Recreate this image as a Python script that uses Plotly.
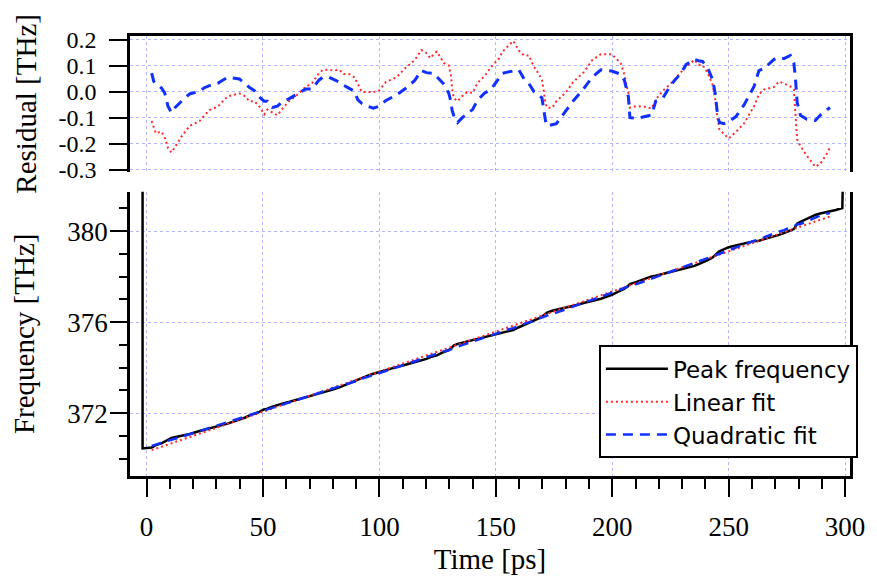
import numpy as np
import plotly.graph_objects as go

# Sample times (ps) shared by the residual and fit curves
time_ps = [2.2, 3.1, 4.0, 6.4, 7.8, 9.2, 10.7, 12.1, 15.0, 18.5, 22.8, 24.6, 27.0, 30.6, 32.7,
           34.8, 39.9, 42.4, 44.1, 46.3, 48.4, 50.5, 51.9, 54.0, 56.2, 58.3, 61.1, 64.0, 68.3,
           71.1, 74.0, 75.8, 78.2, 80.3, 82.8, 84.6, 87.0, 89.3, 90.7, 91.7, 92.4, 95.0, 97.4,
           99.9, 102.8, 107.3, 111.2, 115.2, 118.0, 120.2, 121.9, 123.7, 124.7, 127.7, 129.8,
           130.8, 131.2, 131.9, 133.6, 135.5, 137.6, 140.0, 142.1, 145.1, 147.9, 151.5, 152.9,
           155.0, 157.5, 159.9, 162.1, 164.2, 166.3, 168.4, 169.8, 170.6, 171.3, 172.0, 174.2,
           176.0, 179.9, 183.4, 187.7, 191.3, 195.1, 199.8, 203.6, 205.2, 206.9, 207.6, 210.4,
           213.9, 216.9, 218.7, 221.8, 225.4, 229.3, 231.7, 235.3, 237.1, 238.8, 241.0, 243.1,
           244.2, 245.3, 246.0, 248.1, 250.0, 253.1, 256.6, 260.9, 263.0, 265.1, 269.5, 271.6,
           273.7, 276.5, 278.0, 278.7, 279.4, 280.8, 283.6, 287.2, 289.3, 292.1, 293.5]

# Residual of the linear fit (fit - peak), THz
resid_linear = [-0.112, -0.137, -0.159, -0.153, -0.176, -0.216, -0.233, -0.214, -0.172, -0.131,
                -0.112, -0.093, -0.070, -0.057, -0.036, -0.017, -0.006, -0.017, -0.036, -0.036,
                -0.055, -0.087, -0.068, -0.080, -0.090, -0.065, -0.036, -0.017, 0.019, 0.034,
                0.072, 0.085, 0.085, 0.082, 0.085, 0.069, 0.069, 0.056, 0.034, 0.013, 0.000,
                0.000, -0.001, 0.006, 0.038, 0.056, 0.092, 0.123, 0.161, 0.149, 0.130, 0.149,
                0.155, 0.111, 0.102, 0.060, 0.015, -0.023, -0.036, -0.017, -0.001, -0.004,
                0.034, 0.060, 0.095, 0.130, 0.155, 0.174, 0.196, 0.159, 0.140, 0.140, 0.098,
                0.069, 0.047, 0.002, -0.042, -0.061, -0.061, -0.036, -0.004, 0.040, 0.075,
                0.121, 0.145, 0.145, 0.111, 0.066, -0.004, -0.061, -0.055, -0.057, -0.064,
                -0.029, 0.005, 0.034, 0.072, 0.098, 0.123, 0.104, 0.104, 0.072, 0.028, -0.029,
                -0.106, -0.144, -0.163, -0.179, -0.154, -0.121, -0.055, -0.010, 0.009, 0.019,
                0.040, 0.031, 0.021, 0.009, -0.080, -0.182, -0.208, -0.246, -0.288, -0.277,
                -0.239, -0.214]

# Residual of the quadratic fit (fit - peak), THz
resid_quadratic = [0.072, 0.040, 0.033, 0.015, -0.004, -0.055, -0.080, -0.062, -0.036, -0.008,
                   0.002, 0.015, 0.024, 0.033, 0.045, 0.056, 0.050, 0.030, 0.018, 0.005, -0.020,
                   -0.036, -0.036, -0.060, -0.055, -0.038, -0.027, -0.012, 0.011, 0.011, 0.045,
                   0.057, 0.057, 0.048, 0.038, 0.026, 0.014, 0.002, -0.030, -0.040, -0.044,
                   -0.055, -0.063, -0.055, -0.033, -0.012, 0.013, 0.044, 0.082, 0.074, 0.073,
                   0.070, 0.058, 0.030, -0.005, -0.040, -0.070, -0.090, -0.118, -0.100, -0.085,
                   -0.068, -0.033, -0.005, 0.009, 0.055, 0.072, 0.076, 0.082, 0.085, 0.050,
                   0.032, 0.002, -0.013, -0.023, -0.068, -0.110, -0.131, -0.127, -0.122, -0.075,
                   -0.033, 0.012, 0.055, 0.085, 0.080, 0.068, 0.045, -0.017, -0.099, -0.102,
                   -0.095, -0.089, -0.035, -0.023, 0.030, 0.070, 0.105, 0.125, 0.120, 0.117,
                   0.092, 0.047, -0.005, -0.093, -0.118, -0.122, -0.115, -0.095, -0.050, 0.021,
                   0.082, 0.090, 0.125, 0.133, 0.128, 0.140, 0.110, 0.050, -0.040, -0.090,
                   -0.105, -0.110, -0.090, -0.068, -0.060]

# Peak frequency (THz) at the sample times
peak_freq = [370.490, 370.546, 370.600, 370.679, 370.751, 370.840, 370.910, 370.941, 371.001,
             371.083, 371.216, 371.260, 371.322, 371.436, 371.489, 371.544, 371.713, 371.812,
             371.891, 371.969, 372.062, 372.168, 372.198, 372.284, 372.372, 372.421, 372.490,
             372.574, 372.689, 372.773, 372.837, 372.888, 372.972, 373.049, 373.135, 373.214,
             373.299, 373.393, 373.464, 373.520, 373.558, 373.650, 373.735, 373.816, 373.887,
             374.027, 374.129, 374.239, 374.300, 374.389, 374.468, 374.513, 374.542, 374.692,
             374.775, 374.852, 374.911, 374.974, 375.047, 375.095, 375.153, 375.240, 375.276,
             375.356, 375.420, 375.512, 375.536, 375.591, 375.658, 375.779, 375.876, 375.950,
             376.066, 376.169, 376.240, 376.314, 376.382, 376.426, 376.504, 376.542, 376.648,
             376.727, 376.843, 376.924, 377.034, 377.200, 377.368, 377.469, 377.599, 377.681,
             377.774, 377.899, 378.012, 378.041, 378.116, 378.214, 378.313, 378.372, 378.474,
             378.556, 378.616, 378.726, 378.844, 378.940, 379.056, 379.118, 379.211, 379.294,
             379.378, 379.469, 379.555, 379.584, 379.639, 379.784, 379.837, 379.920, 380.029,
             380.093, 380.207, 380.334, 380.409, 380.546, 380.715, 380.778, 380.839, 380.863]

# Peak trace before the first and after the last sample (edge spikes)
peak_lead_t = [-1.7, -1.7]
peak_lead_f = [383.0, 370.45]
peak_tail_t = [296.0, 298.8, 299.2]
peak_tail_f = [380.93, 381.02, 383.0]

x_ticks = [0, 50, 100, 150, 200, 250, 300]
resid_ticks = [0.2, 0.1, 0.0, -0.1, -0.2, -0.3]
resid_tick_text = ["0.2", "0.1", "0.0", "-0.1", "-0.2", "-0.3"]
freq_ticks = [372, 376, 380]

t = np.array(time_ps)
peak = np.array(peak_freq)
r_lin = np.array(resid_linear)
r_quad = np.array(resid_quadratic)
linear_fit = peak + r_lin
quadratic_fit = peak + r_quad

RED = "#ff2a2a"
BLUE = "#1030ff"
GRID = "#b4b4ff"
SERIF = "Liberation Serif, Times New Roman, serif"
tick_font = dict(family=SERIF, size=27, color="black")
resid_tick_font = dict(family=SERIF, size=24, color="black")
title_font = dict(family=SERIF, size=29, color="black")

fig = go.Figure()

# Lower panel: frequency traces
fig.add_trace(go.Scatter(
    x=peak_lead_t + time_ps + peak_tail_t,
    y=peak_lead_f + peak_freq + peak_tail_f,
    mode="lines", name="Peak frequency",
    line=dict(color="black", width=2.5), xaxis="x", yaxis="y"))
fig.add_trace(go.Scatter(
    x=t, y=linear_fit, mode="lines", name="Linear fit",
    line=dict(color=RED, width=2, dash="2px,3px"), xaxis="x", yaxis="y"))
fig.add_trace(go.Scatter(
    x=t, y=quadratic_fit, mode="lines", name="Quadratic fit",
    line=dict(color=BLUE, width=2.5, dash="10px,7px"), xaxis="x", yaxis="y"))

# Upper panel: residuals
fig.add_trace(go.Scatter(
    x=t, y=r_lin, mode="lines", showlegend=False,
    line=dict(color=RED, width=2, dash="2px,3px"), xaxis="x2", yaxis="y2"))
fig.add_trace(go.Scatter(
    x=t, y=r_quad, mode="lines", showlegend=False,
    line=dict(color=BLUE, width=3, dash="10px,7px"), xaxis="x2", yaxis="y2"))

x_range = [-7.1, 302.1]
axis_line = dict(showline=True, linecolor="black", linewidth=2.5)

fig.update_layout(
    width=877, height=582,
    margin=dict(l=130, r=23, t=36, b=105),
    paper_bgcolor="white", plot_bgcolor="white",
    font=dict(family=SERIF, size=27, color="black"),
    xaxis=dict(
        domain=[0, 1], range=x_range, anchor="y",
        tickmode="array", tickvals=x_ticks, tickfont=tick_font,
        ticks="outside", ticklen=18, tickwidth=2, tickcolor="black",
        ticklabelstandoff=7,
        minor=dict(dtick=10, tick0=0, ticks="outside", ticklen=10, tickwidth=2,
                   tickcolor="black", showgrid=False),
        showgrid=True, gridcolor=GRID, gridwidth=1, griddash="dot",
        zeroline=False, mirror=False,
        title=dict(text="Time [ps]", font=title_font, standoff=8),
        **axis_line),
    yaxis=dict(
        domain=[0, 0.6463], range=[369.24, 381.74], anchor="x",
        tickmode="array", tickvals=freq_ticks, tickfont=tick_font,
        ticks="outside", ticklen=17, tickwidth=2, tickcolor="black",
        ticklabelstandoff=-3,
        minor=dict(dtick=1, tick0=0, ticks="outside", ticklen=8, tickwidth=2,
                   tickcolor="black", showgrid=False),
        showgrid=True, gridcolor=GRID, gridwidth=1, griddash="dot",
        zeroline=False, mirror=True,
        title=dict(text="Frequency [THz]", font=title_font, standoff=25),
        **axis_line),
    xaxis2=dict(
        domain=[0, 1], range=x_range, anchor="y2", side="top", matches="x",
        tickmode="array", tickvals=x_ticks, ticks="", showticklabels=False,
        showgrid=True, gridcolor=GRID, gridwidth=1, griddash="dot",
        zeroline=False, mirror=False, **axis_line),
    yaxis2=dict(
        domain=[0.6916, 1], range=[-0.307, 0.215], anchor="x2",
        tickmode="array", tickvals=resid_ticks, ticktext=resid_tick_text,
        tickfont=resid_tick_font,
        ticks="outside", ticklen=18, tickwidth=2, tickcolor="black",
        ticklabelstandoff=8,
        showgrid=True, gridcolor=GRID, gridwidth=1, griddash="dot",
        zeroline=False, mirror=True,
        title=dict(text="Residual [THz]", font=title_font, standoff=14),
        **axis_line),
    legend=dict(
        x=1.011, xanchor="right", y=0.297, yanchor="top",
        bgcolor="white", bordercolor="black", borderwidth=2,
        font=dict(family="DejaVu Sans", size=23, color="black"),
        itemwidth=62, tracegroupgap=0),
    showlegend=True,
)

fig.write_html("out.html")
